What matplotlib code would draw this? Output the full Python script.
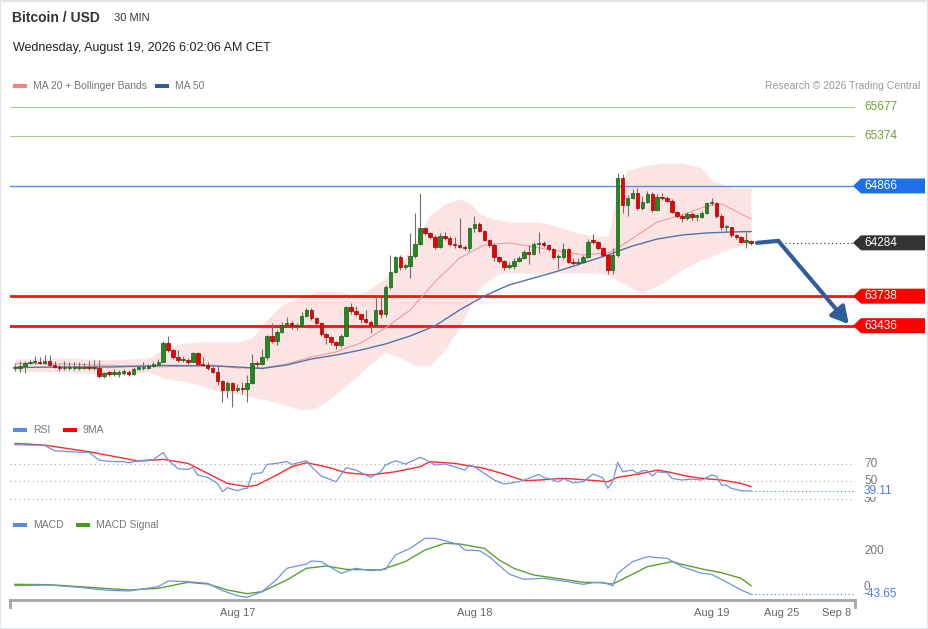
import matplotlib
matplotlib.use("Agg")
import matplotlib.pyplot as plt
from matplotlib.patches import Polygon, Rectangle
from matplotlib.transforms import blended_transform_factory
import numpy as np

plt.rcParams['font.family'] = ['Liberation Sans', 'DejaVu Sans']

W, H = 929, 629

# 30 min candles, index 0 = Aug 16 01:30
close = [63006, 63024, 63051, 63062, 63062, 63054, 63075, 63034, 63016, 63000,
         63000, 63000, 63000, 63000, 63003, 63000, 63000, 62921, 62949, 62942,
         62942, 62955, 62955, 62942, 62996, 63000, 63000, 63027, 63037, 63068,
         63256, 63187, 63119, 63085, 63085, 63068, 63154, 63044, 63034, 63000,
         62965, 62870, 62778, 62847, 62778, 62800, 62785, 62847, 63051, 63044,
         63113, 63331, 63283, 63375, 63443, 63467, 63433, 63433, 63540, 63597,
         63518, 63461, 63348, 63324, 63272, 63239, 63334, 63624, 63587, 63553,
         63505, 63477, 63443, 63597, 63553, 63829, 63989, 64142, 64040, 64047,
         64150, 64269, 64433, 64382, 64347, 64245, 64357, 64331, 64272, 64262,
         64245, 64228, 64433, 64474, 64405, 64313, 64262, 64142, 64098, 64040,
         64050, 64101, 64126, 64194, 64170, 64272, 64286, 64262, 64218, 64136,
         64142, 64218, 64091, 64075, 64085, 64142, 64296, 64293, 64228, 64160,
         64006, 64160, 64945, 64671, 64740, 64797, 64638, 64700, 64784, 64620,
         64756, 64740, 64715, 64603, 64559, 64535, 64579, 64552, 64552, 64587,
         64689, 64689, 64562, 64443, 64443, 64364, 64341, 64296, 64303, 64284]
high = [63040, 63070, 63070, 63090, 63130, 63120, 63140, 63140, 63070, 63040,
        63070, 63060, 63060, 63060, 63050, 63070, 63080, 63080, 62965, 62970,
        62995, 62985, 62995, 62980, 63010, 63020, 63065, 63045, 63060, 63100,
        63275, 63330, 63200, 63190, 63130, 63110, 63170, 63165, 63120, 63060,
        63025, 63025, 62885, 62870, 62860, 62840, 62860, 62930, 63150, 63070,
        63200, 63340, 63460, 63390, 63470, 63520, 63480, 63460, 63580, 63620,
        63620, 63530, 63470, 63360, 63330, 63280, 63350, 63640, 63670, 63640,
        63560, 63600, 63490, 63720, 63730, 63850, 64160, 64150, 64160, 64070,
        64380, 64590, 64790, 64450, 64400, 64360, 64380, 64400, 64350, 64340,
        64540, 64260, 64445, 64560, 64500, 64420, 64320, 64280, 64150, 64110,
        64090, 64130, 64150, 64210, 64260, 64290, 64400, 64300, 64270, 64230,
        64170, 64280, 64230, 64130, 64130, 64160, 64320, 64370, 64300, 64240,
        64170, 64230, 65000, 64990, 64770, 64830, 64850, 64760, 64810, 64800,
        64780, 64790, 64760, 64730, 64610, 64580, 64600, 64600, 64580, 64610,
        64700, 64745, 64700, 64580, 64470, 64450, 64370, 64350, 64400, 64310]
low = [62975, 62960, 62950, 63040, 63045, 63040, 63045, 63020, 63000, 62975,
       62980, 62980, 62980, 62985, 62990, 62985, 62985, 62900, 62905, 62920,
       62920, 62915, 62930, 62920, 62930, 62985, 62985, 62995, 63015, 63030,
       63060, 63170, 63100, 63060, 63065, 63040, 63060, 63030, 63020, 62985,
       62950, 62830, 62660, 62700, 62600, 62760, 62740, 62650, 62840, 63000,
       63030, 63090, 63260, 63240, 63360, 63430, 63400, 63390, 63420, 63520,
       63490, 63440, 63330, 63250, 63240, 63200, 63220, 63330, 63560, 63540,
       63460, 63460, 63360, 63430, 63510, 63530, 63810, 63980, 64010, 64020,
       63920, 64130, 64260, 64360, 64320, 64220, 64230, 64310, 64250, 64230,
       64230, 64210, 64200, 64400, 64390, 64300, 64240, 64100, 64080, 64010,
       64020, 64020, 64090, 64120, 64070, 64160, 64180, 64240, 64200, 64120,
       64020, 64120, 64080, 64060, 64055, 64075, 64130, 64270, 64210, 64140,
       63970, 63960, 64140, 64590, 64560, 64730, 64620, 64620, 64690, 64600,
       64610, 64720, 64700, 64590, 64540, 64500, 64520, 64520, 64510, 64540,
       64580, 64670, 64540, 64420, 64400, 64340, 64320, 64280, 64230, 64260]
first_open = 63000

# Bollinger bands (MA 20)
band_idx = [0, 10, 20, 27, 30, 34, 38, 41, 45, 48, 50, 54, 58, 61, 64, 66, 68, 71, 75, 78,
            81, 84, 87, 90, 92, 94, 96, 98, 100, 106, 110, 114, 118, 120, 121, 122, 124, 127,
            131, 135, 139, 141, 145, 149]
band_up = [63095, 63106, 63085, 63106, 63187, 63259, 63269, 63269, 63269, 63310,
           63443, 63648, 63730, 63781, 63791, 63781, 63761, 63781, 63924, 64088,
           64283, 64569, 64682, 64733, 64692, 64590, 64538, 64518, 64497, 64497,
           64446, 64385, 64344, 64354, 64569, 64825, 65030, 65071, 65101, 65101,
           65050, 64927, 64845, 64845]
band_lo = [62972, 62962, 62932, 62962, 62901, 62870, 62819, 62768, 62737, 62706,
           62686, 62635, 62573, 62594, 62696, 62778, 62860, 63003, 63167, 63106,
           63024, 63024, 63187, 63413, 63628, 63822, 63904, 63965, 63976, 63976,
           63976, 63976, 63976, 63955, 63924, 63894, 63843, 63771, 63873, 64006,
           64109, 64150, 64231, 64262]

ma20_idx = [0, 10, 20, 30, 40, 45, 50, 55, 60, 65, 70, 75, 80, 85, 90, 95, 100, 105, 110,
            115, 120, 123, 126, 130, 135, 140, 143, 145, 149]
ma20 = [63049, 63044, 63029, 63014, 63034, 63003, 63003, 63044, 63116, 63167, 63259,
        63413, 63597, 63883, 64129, 64262, 64283, 64242, 64201, 64160, 64180, 64262,
        64364, 64497, 64569, 64661, 64682, 64631, 64528]
ma50_idx = [0, 10, 20, 30, 40, 45, 50, 55, 60, 65, 70, 75, 80, 85, 90, 95, 100, 105, 110,
            115, 120, 125, 130, 135, 140, 145, 149]
ma50 = [63008, 63014, 63014, 63029, 63024, 63014, 62998, 63034, 63095, 63136, 63187,
        63249, 63331, 63433, 63597, 63740, 63853, 63924, 63996, 64078, 64160, 64252,
        64323, 64364, 64385, 64395, 64400]

levels_green = [65677, 65374]
level_blue = 64866
levels_red = [63738, 63436]
last_price = 64284

rsi_idx = [0, 6, 8, 14, 15, 17, 19, 22, 23, 25, 28, 30, 31, 33, 35, 36, 37, 39, 41, 42,
           43, 45, 46, 47, 48, 50, 51, 53, 55, 56, 59, 60, 62, 65, 67, 69, 72, 74, 75, 77,
           79, 82, 83, 85, 87, 89, 91, 92, 93, 95, 97, 99, 102, 104, 106, 107, 110, 111, 113,
           115, 117, 119, 120, 121, 122, 123, 125, 126, 127, 128, 129, 130, 132, 133, 135,
           137, 139, 141, 142, 143, 144, 145, 147, 149]
rsi = [91.5, 90.8, 84.7, 82.8, 82.8, 74.2, 72.6, 72.3, 71.1, 73.4, 74.5, 82.8, 74.2, 64.3,
       63.6, 65.8, 57.2, 54.5, 47.7, 38.3, 42.8, 39.4, 41.3, 42.1, 58.3, 59.8, 69.2, 70.4,
       72.6, 69.2, 73.4, 66.6, 56.0, 49.6, 65.5, 62.8, 54.5, 60.9, 68.5, 73.4, 69.6, 77.2,
       74.9, 68.5, 69.6, 66.6, 62.8, 68.5, 66.6, 59.1, 51.5, 47.0, 49.6, 53.4, 57.9, 54.5,
       49.6, 53.0, 48.5, 49.6, 58.3, 54.0, 42.1, 49.6, 71.5, 60.9, 62.8, 59.1, 62.1, 62.1,
       56.0, 60.9, 59.8, 53.4, 51.5, 52.6, 51.5, 57.2, 56.0, 45.8, 45.8, 42.1, 39.4, 39.11]
rsi_ma_idx = [0, 6, 15, 25, 30, 35, 39, 43, 47, 49, 53, 56, 59, 63, 67, 72, 77, 82, 84, 89,
              95, 99, 103, 106, 111, 116, 120, 122, 125, 127, 130, 132, 136, 139, 143, 147, 149]
rsi_ma = [93.0, 91.1, 83.6, 73.0, 74.9, 70.4, 59.1, 47.7, 44.0, 45.8, 57.2, 66.6, 71.1,
          66.6, 59.8, 57.2, 60.9, 66.6, 72.3, 70.4, 64.7, 58.3, 50.8, 51.5, 53.4, 51.5,
          49.6, 54.5, 57.2, 59.1, 62.8, 60.9, 56.0, 53.4, 51.5, 47.7, 44.0]

macd_idx = [0, 7, 13, 18, 23, 29, 31, 35, 39, 42, 45, 47, 50, 53, 55, 59, 60, 62, 66, 69,
            72, 75, 77, 80, 83, 85, 87, 90, 91, 94, 96, 100, 103, 107, 111, 115, 117, 119,
            121, 122, 125, 128, 130, 132, 135, 139, 141, 143, 147, 149]
macd = [4.7, 8.5, -4.7, -19.7, -25.4, -0.9, 31.0, 27.2, 17.8, -23.5, -51.6, -61.0, -29.1,
        40.4, 102.4, 126.8, 143.7, 139.9, 74.2, 102.4, 89.2, 96.7, 177.5, 215.0, 271.4,
        271.4, 258.2, 233.8, 205.6, 201.9, 168.0, 70.4, 40.4, 46.0, 31.0, 12.2, 21.6, 23.5,
        4.7, 74.2, 139.9, 168.0, 162.4, 158.7, 111.7, 74.2, 68.5, 40.4, -19.7, -43.65]
signal_idx = [0, 7, 13, 23, 29, 35, 39, 43, 47, 50, 55, 59, 63, 67, 74, 79, 83, 87, 90, 95,
              98, 101, 105, 111, 115, 118, 121, 124, 128, 133, 135, 140, 143, 147, 149]
signal = [12.2, 10.3, -0.9, -19.7, -10.3, 23.5, 14.1, -19.7, -40.4, -29.1, 36.6, 102.4,
          115.5, 96.7, 93.0, 139.9, 205.6, 243.2, 239.4, 215.0, 149.3, 102.4, 64.8, 40.4,
          23.5, 22.5, 14.1, 55.4, 111.7, 139.9, 124.9, 93.0, 77.9, 46.0, 4.7]

tick_pos = [45, 93, 141, 155.1, 166.4]
tick_lab = ["Aug 17", "Aug 18", "Aug 19", "Aug 25", "Sep 8"]

fig = plt.figure(figsize=(W / 100, H / 100), dpi=100)
fig.patch.set_facecolor("white")


def px_axes(left, top, right, bottom):
    return fig.add_axes([left / W, 1 - bottom / H, (right - left) / W, (bottom - top) / H])


xlim = (-5 / 4.94, 840 / 4.94)

# ---------- main price panel ----------
ax = px_axes(10, 95, 855, 415)
ax.set_xlim(*xlim)
ax.set_ylim(62522, 65797)
ax.axis("off")

n = len(close)
idx = np.arange(n)
c = np.array(close, dtype=float)
o = np.concatenate([[first_open], c[:-1]])
hi = np.maximum(np.array(high, dtype=float), np.maximum(o, c))
lo = np.minimum(np.array(low, dtype=float), np.minimum(o, c))

ax.fill_between(band_idx, band_lo, band_up, color="#fde4e4", lw=0, zorder=1)
ax.plot(ma20_idx, ma20, color="#f49a9a", lw=0.8, zorder=2)
ax.plot(ma50_idx, ma50, color="#4f74ad", lw=1.0, zorder=2)

for lv in levels_green:
    ax.axhline(lv, color="#a9cc8c", lw=0.8, zorder=1)
ax.axhline(level_blue, color="#4f8ff0", lw=1.0, zorder=1)
for lv in levels_red:
    ax.axhline(lv, color="#ff1010", lw=2.0, zorder=1)

ax.vlines(idx, lo, hi, color="#6e6e6e", lw=0.8, zorder=3)
up = c >= o
bottom = np.minimum(o, c)
height = np.maximum(np.abs(c - o), 15)
ax.bar(idx[up], height[up], bottom=bottom[up], width=0.7, color="#1f8a1f",
       edgecolor="#155f15", lw=0.5, zorder=4)
ax.bar(idx[~up], height[~up], bottom=bottom[~up], width=0.7, color="#ee0000",
       edgecolor="#a00000", lw=0.5, zorder=4)

# last price dotted line and forecast arrow
ax.plot([n + 5, xlim[1]], [last_price, last_price], color="#333333", lw=0.8,
        ls=(0, (1, 2.5)), zorder=2)
arrow_start = (n + 0.2, last_price)
arrow_pivot = (n + 4.5, last_price + 20)
arrow_end = (168.8, levels_red[1] + 15)
ax.plot([arrow_start[0], arrow_pivot[0]], [arrow_start[1], arrow_pivot[1]],
        color="#2f5d9b", lw=3, solid_capstyle="round", zorder=5)
ax.annotate("", xy=arrow_end, xytext=arrow_pivot,
            arrowprops=dict(arrowstyle="-|>,head_length=1.0,head_width=0.55", lw=3,
                            color="#2f5d9b", shrinkA=0, shrinkB=0), zorder=5)

tr = blended_transform_factory(fig.transFigure, ax.transData)
ppx = (65797 - 62522) / 320.0


def tag(y, text, color):
    h = 7.5 * ppx
    verts = [(853 / W, y), (861 / W, y + h), (925 / W, y + h), (925 / W, y - h), (861 / W, y - h)]
    ax.add_patch(Polygon(verts, closed=True, transform=tr, facecolor=color,
                         edgecolor="none", clip_on=False, zorder=6))
    ax.text(864 / W, y, text, transform=tr, color="white", fontsize=8.5,
            va="center", ha="left", clip_on=False, zorder=7)


for lv in levels_green:
    ax.text(864 / W, lv, str(lv), transform=tr, color="#6f9f35", fontsize=8.5,
            va="center", ha="left", clip_on=False)
tag(level_blue, str(level_blue), "#1f6fe8")
tag(last_price, str(last_price), "#333333")
for lv in levels_red:
    tag(lv, str(lv), "#ff0000")

# ---------- RSI panel ----------
ax2 = px_axes(10, 440, 855, 505)
ax2.set_xlim(*xlim)
ax2.set_ylim(23.2, 96.9)
ax2.axis("off")
for lv in [70, 50, 30]:
    ax2.axhline(lv, color="#a8a8a8", lw=0.8, ls=(0, (1, 3)), zorder=1)
ax2.plot(rsi_idx, rsi, color="#6f93e0", lw=0.9, zorder=3)
ax2.plot(rsi_ma_idx, rsi_ma, color="#ff2a2a", lw=1.0, zorder=2)
ax2.plot([rsi_idx[-1], xlim[1]], [rsi[-1], rsi[-1]], color="#4a7fe0", lw=0.8,
         ls=(0, (1, 2.5)))
tr2 = blended_transform_factory(fig.transFigure, ax2.transData)
for lv in [70, 50, 30]:
    ax2.text(864 / W, lv, str(lv), transform=tr2, color="#777777", fontsize=8.5,
             va="center", ha="left", clip_on=False)
ax2.text(864 / W, rsi[-1], f"{rsi[-1]:.2f}", transform=tr2, color="#4a7fe0",
         fontsize=8.5, va="center", ha="left", clip_on=False,
         bbox=dict(facecolor="white", edgecolor="none", pad=0.3))

# ---------- MACD panel ----------
ax3 = px_axes(10, 535, 855, 600)
ax3.set_xlim(*xlim)
ax3.set_ylim(-76, 290)
for s in ["top", "right", "left"]:
    ax3.spines[s].set_visible(False)
ax3.spines["bottom"].set_color("#a5a5a5")
ax3.spines["bottom"].set_linewidth(2)
ax3.set_yticks([])
ax3.set_xticks(tick_pos)
ax3.set_xticklabels(tick_lab)
ax3.tick_params(axis="x", length=0, pad=6, labelsize=8, labelcolor="#666666")
for xe in [0, 1]:
    ax3.plot([xe, xe], [0, -0.1], transform=ax3.transAxes, color="#a5a5a5", lw=2,
             clip_on=False)
ax3.plot(signal_idx, signal, color="#5aa02c", lw=1.0, zorder=2)
ax3.plot(macd_idx, macd, color="#6f93e0", lw=0.9, zorder=3)
ax3.plot([macd_idx[-1], xlim[1]], [macd[-1], macd[-1]], color="#4a7fe0", lw=0.8,
         ls=(0, (1, 2.5)))
tr3 = blended_transform_factory(fig.transFigure, ax3.transData)
for lv in [200, 0]:
    ax3.text(864 / W, lv, str(lv), transform=tr3, color="#777777", fontsize=8.5,
             va="center", ha="left", clip_on=False)
ax3.text(864 / W, macd[-1], f"{macd[-1]:.2f}", transform=tr3, color="#4a7fe0",
         fontsize=8.5, va="center", ha="left", clip_on=False)

# ---------- header and legends ----------
fig.text(12 / W, 1 - 18 / H, "Bitcoin / USD", fontsize=10, fontweight="bold",
         color="#333333", va="center")
fig.text(114 / W, 1 - 18 / H, "30 MIN", fontsize=8, color="#333333", va="center")
fig.text(13 / W, 1 - 48 / H, "Wednesday, August 19, 2026 6:02:06 AM CET", fontsize=9,
         color="#222222", va="center")


def legend_item(x, y, color, label):
    fig.add_artist(Rectangle((x / W, 1 - (y + 2) / H), 14 / W, 4 / H, transform=fig.transFigure,
                             facecolor=color, edgecolor="none"))
    fig.text((x + 20) / W, 1 - y / H, label, fontsize=7.5, color="#777777", va="center")


legend_item(13, 86, "#ff7f7f", "MA 20 + Bollinger Bands")
legend_item(155, 86, "#2f5d9b", "MA 50")
fig.text(920 / W, 1 - 86 / H, "Research \u00a9 2026 Trading Central", fontsize=7.5,
         color="#999999", va="center", ha="right")
legend_item(13, 430, "#5b88e0", "RSI")
legend_item(63, 430, "#ff0000", "9MA")
legend_item(13, 525, "#5b88e0", "MACD")
legend_item(76, 525, "#4a9a1a", "MACD Signal")

fig.add_artist(Rectangle((0.5 / W, 0.5 / H), (W - 1) / W, (H - 1) / H, transform=fig.transFigure,
                         fill=False, edgecolor="#dfe5ea", lw=1.5))

fig.savefig("out.png", dpi=100)
